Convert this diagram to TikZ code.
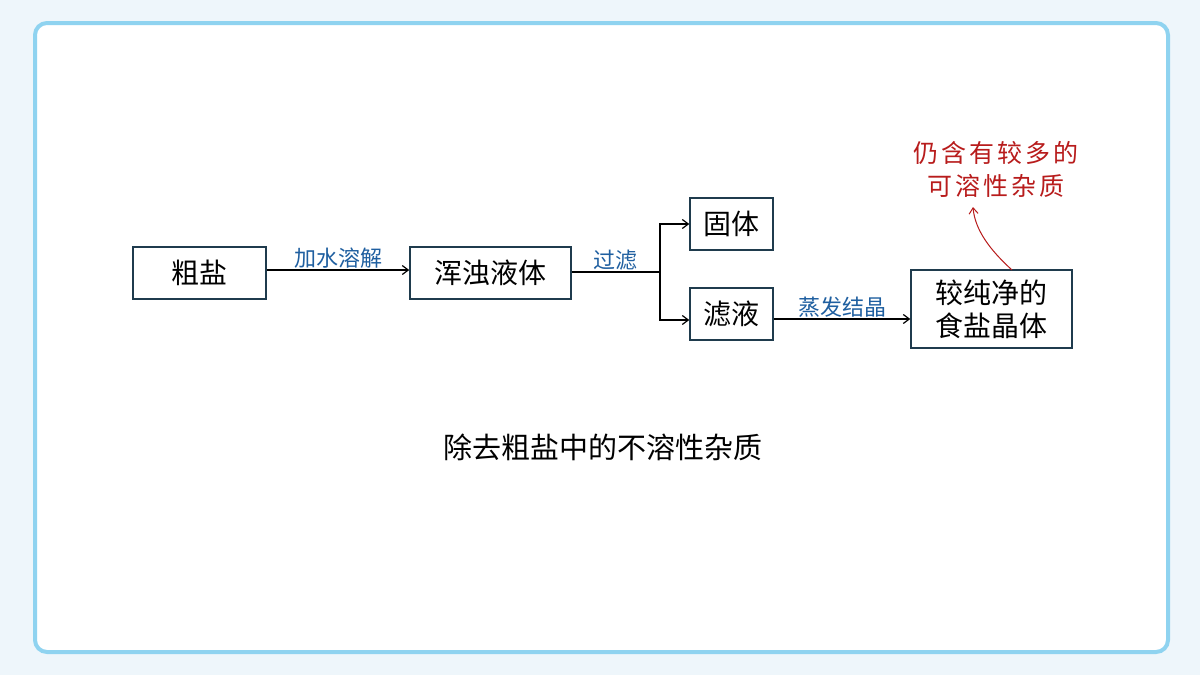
\documentclass[tikz,border=0pt]{standalone}
\usepackage{fontspec}
\usetikzlibrary{arrows.meta}
\setmainfont{Noto Sans CJK SC}
\newfontfamily\redfont[LetterSpace=12]{Noto Sans CJK SC}
\begin{document}
\begin{tikzpicture}[x=1pt,y=-1pt,
  box/.style={draw=boxc,line width=1.5pt,minimum height=52pt,inner sep=0pt,font=\fontsize{28}{32}\selectfont},
  lab/.style={text=labc,font=\fontsize{22}{26}\selectfont,inner sep=1pt},
  arr/.style={->,line width=1.2pt,>={Straight Barb[length=6pt,width=9pt]}}]
\definecolor{boxc}{HTML}{1F3B4D}
\definecolor{labc}{HTML}{1F5FA0}
\definecolor{redc}{HTML}{B81C1C}
\definecolor{framec}{HTML}{8FD3F0}
\useasboundingbox (0,0) rectangle (1200,675);
\fill[color={rgb,255:red,238;green,246;blue,251}] (0,0) rectangle (1200,675);
\filldraw[fill=white,draw=framec,line width=4pt,rounded corners=12pt] (35,23) rectangle (1168,652);
\node[box,minimum width=133pt] (a) at (199.5,273) {粗盐};
\node[box,minimum width=161pt] (b) at (490.5,273) {浑浊液体};
\node[box,minimum width=83pt] (c) at (731.5,224) {固体};
\node[box,minimum width=83pt] (d) at (731.5,314) {滤液};
\node[box,minimum width=161pt,minimum height=78pt,align=center,font=\fontsize{28}{33}\selectfont] (e) at (991.5,309) {较纯净的\\食盐晶体};
\coordinate (j) at (660,272);
\coordinate (et) at (1012,270);
\draw[arr] (a.east |- 0,270) -- node[lab,above] {加水溶解} (b.west |- 0,270);
\draw[line width=1.2pt] (b.east |- j) -- node[lab,above] {过滤} (j);
\draw[arr] (j) |- (c.west);
\draw[arr] (j) |- (d.west |- 0,320);
\draw[arr] (d.east |- 0,319) -- node[lab,above] {蒸发结晶} (e.west |- 0,319);
\node[text=redc,align=center,font=\redfont\fontsize{25}{33}\selectfont] (r) at (996,169) {仍含有较多的\\可溶性杂质};
\coordinate (rt) at (973,207);
\draw[arr,redc,line width=1pt] (et) .. controls (990,250) and (975,230) .. (rt);
\node[font=\fontsize{29}{33}\selectfont] (cap) at (603,447) {除去粗盐中的不溶性杂质};
\end{tikzpicture}
\end{document}
